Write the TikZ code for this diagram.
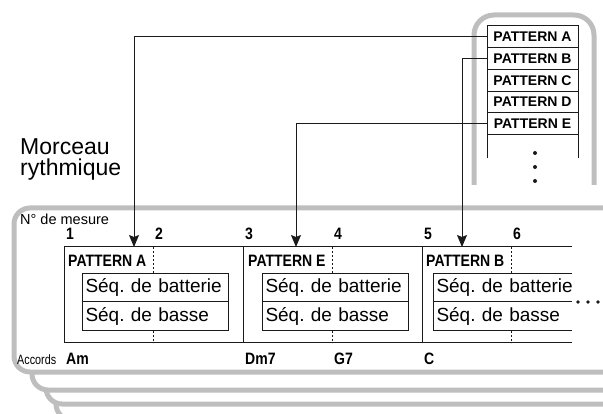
\documentclass[tikz,border=0pt]{standalone}
\usepackage{fontspec}
\setmainfont{Liberation Sans}
\newfontfamily\cnfont[FakeStretch=0.85]{Liberation Sans}
\newfontfamily\accfont[FakeStretch=0.8]{Liberation Sans}
\usetikzlibrary{arrows.meta, positioning}
\frenchspacing
\definecolor{framegray}{HTML}{BEBEBE}
\definecolor{inkblack}{HTML}{1A1A1A}
\tikzset{
  gframe/.style={draw=framegray, line width=5pt, fill=white, rounded corners=16pt},
  patrow/.style={draw=inkblack, line width=1pt, fill=white, minimum width=91pt, minimum height=21.7pt,
                 inner sep=0pt, outer sep=0pt, font=\bfseries\fontsize{14}{15}\selectfont},
  barline/.style={draw=inkblack, line width=1pt},
  beatline/.style={draw=inkblack, line width=1pt, dash pattern=on 2pt off 2pt},
  seqbox/.style={draw=inkblack, line width=1pt, fill=white, minimum height=28.5pt, text width=139pt,
                 inner xsep=3.5pt, inner ysep=0pt, outer sep=0pt, align=left, anchor=north west,
                 font=\fontsize{19}{21}\selectfont},
  seqopen/.style={seqbox, draw=none, text width=137pt},
  boldlabel/.style={anchor=base west, inner sep=0pt, font=\cnfont\bfseries\fontsize{16.5}{18}\selectfont},
  patarrow/.style={draw=inkblack, line width=1pt, -{Stealth[length=12pt, width=10pt, inset=2pt]}}
}

\begin{document}
\begin{tikzpicture}[x=1pt, y=-1pt]
    \useasboundingbox (0,0) rectangle (603,414);
    \clip (0,0) rectangle (603,414);
    % stacked song frames, back to front
    \foreach \l/\t/\b in {56/252/420, 46/238/404, 32/223/390, 14/208/372}
      \draw[gframe] (\l,\t) rectangle (680,\b);
    % pattern list frame
    \draw[gframe, fill=none, rounded corners=20pt] (474,185) -- (474,15) -- (594,15) -- (594,185);
    % PATTERN list
    \node[patrow, anchor=north west] (patA) at (487,26) {PATTERN A};
    \node[patrow, below=0pt of patA] (patB) {PATTERN B};
    \node[patrow, below=0pt of patB] (patC) {PATTERN C};
    \node[patrow, below=0pt of patC] (patD) {PATTERN D};
    \node[patrow, below=0pt of patD] (patE) {PATTERN E};
    \draw[barline] (patE.south west) -- ++(0,24);
    \draw[barline] (patE.south east) -- ++(0,24);
    \foreach \y in {153,167,181}
      \fill[inkblack] (535,\y) circle (2pt);
    % title
    \node[anchor=base west, inner sep=0pt, align=left, font=\fontsize{23}{21}\selectfont]
      (title) at (20,176) {Morceau\\rythmique};
    \node[anchor=base west, inner sep=0pt, font=\fontsize{14.5}{16}\selectfont] (mesure) at (20,225) {N° de mesure};
    \node[anchor=base west, inner sep=0pt, font=\accfont\fontsize{13.5}{15}\selectfont] (accords) at (17,365) {Accords};
    % measure grid
    \coordinate (gridend) at (572,247);
    \draw[barline] (64,247) -- (gridend);
    \draw[barline] (64,343) -- (572,343);
    \foreach \x in {64,243,422}
      \draw[barline] (\x,247) -- (\x,343);
    \foreach \x in {153,332,511}
      \draw[beatline] (\x,247) -- (\x,343);
    \foreach \x/\n in {64/1,153/2,243/3,332/4,422/5,511/6}
      \node[boldlabel] (bar\n) at (\x+2,240) {\n};
    % chords
    \node[boldlabel] (chordAm) at (66,364) {Am};
    \node[boldlabel] (chordDm) at (245,364) {Dm7};
    \node[boldlabel] (chordG) at (334,364) {G7};
    \node[boldlabel] (chordC) at (424,364) {C};
    % block 1
    \node[boldlabel] (blkA) at (68,267) {PATTERN A};
    \node[seqbox] (drumA) at (82,273.5) {Séq. de batterie};
    \node[seqbox, below=0pt of drumA] (bassA) {Séq. de basse};
    % block 2
    \node[boldlabel] (blkE) at (248,267) {PATTERN E};
    \node[seqbox] (drumE) at (262,273.5) {Séq. de batterie};
    \node[seqbox, below=0pt of drumE] (bassE) {Séq. de basse};
    % block 3
    \node[boldlabel] (blkB) at (426,267) {PATTERN B};
    \node[seqopen] (drumB) at (433,273.5) {Séq. de batterie};
    \node[seqopen, below=0pt of drumB] (bassB) {Séq. de basse};
    \draw[barline] (drumB.north west -| gridend) -- (drumB.north west) -- (bassB.south west) -- (bassB.south west -| gridend);
    \draw[barline] (drumB.south west) -- (drumB.south west -| gridend);
    \foreach \x in {578,588,598}
      \fill[inkblack] (\x,302) circle (1.8pt);
    % pattern assignment
    \coordinate (inA) at (134,247);
    \coordinate (inE) at (296,247);
    \coordinate (inB) at (462,247);
    \draw[patarrow] (patA.west) -| (inA);
    \draw[patarrow] (patE.west) -| (inE);
    \draw[patarrow] (patB.west) -| (inB);
\end{tikzpicture}
\end{document}
